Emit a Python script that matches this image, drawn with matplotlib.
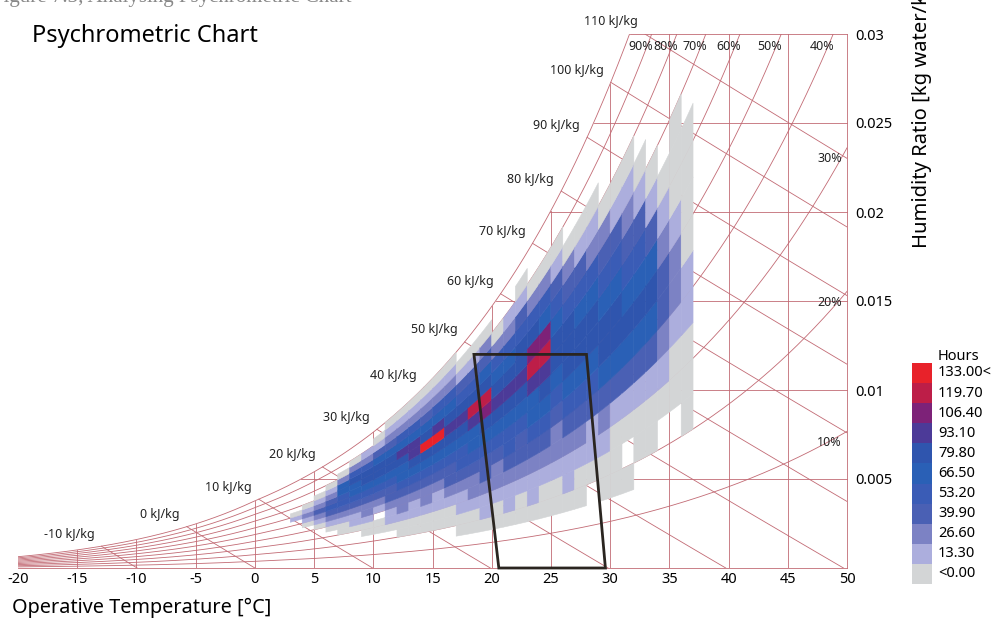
import numpy as np
import matplotlib
matplotlib.use("Agg")
import matplotlib.pyplot as plt
from matplotlib.collections import PolyCollection
from matplotlib.patches import Polygon, Rectangle

plt.rcParams['font.family'] = ['Noto Sans', 'DejaVu Sans']

# ---- chart values ----
x_ticks = [-20, -15, -10, -5, 0, 5, 10, 15, 20, 25, 30, 35, 40, 45, 50]
y_ticks = [0.005, 0.01, 0.015, 0.02, 0.025, 0.03]
y_tick_labels = ['0.005', '0.01', '0.015', '0.02', '0.025', '0.03']
rh_lines = [10, 20, 30, 40, 50, 60, 70, 80, 90, 100]
rh_top_labels = [40, 50, 60, 70, 80, 90]
rh_side_labels = [10, 20, 30]
enthalpy_lines = [-10, 0, 10, 20, 30, 40, 50, 60, 70, 80, 90, 100, 110]

# hours binned by 1 degC columns and 5 % RH rows
# each string starts at rh_bottom and climbs in 5 % steps; char = legend step, '.' = no data
temps = list(range(3, 37))
rh_bottom = [55, 45, 40, 35, 30, 30, 25, 25, 25, 20, 20, 20, 20, 20, 15, 15, 15,
             15, 15, 15, 15, 15, 15, 15, 15, 20, 15, 15, 15, 20, 20, 25, 25, 20]
hour_levels = [
    "10", "01210", "0123210", "012343210", "00123445520", "011234556420",
    "0012234566421", "00.12345665310", "011233456653210", "0012234556754210",
    "0011234567754210", "001223456A653210", "001123456A754210", "0012334567654210",
    "0011234456764310", "0012234557964310", "0112334568965320", "001223456765420",
    "011234456765421", "0012334567664310", "011234557986420", "001234567985420",
    "001223456654310", "01123456664320", "00123456654310", "0113456654210",
    "0012356654320", "0001356654310", "0.01356543210", "00135654310",
    "0013565310", "01233210", "001221000", "000110000",
]

legend_labels = ['<0.00', '13.30', '26.60', '39.90', '53.20', '66.50',
                 '79.80', '93.10', '106.40', '119.70', '133.00<']
legend_colors = ['#d3d5d6', '#acaedd', '#7c82c4', '#4a60b4', '#3a5cb6', '#2a60b6',
                 '#2f55ae', '#4c3a98', '#7d2278', '#bd1e48', '#e8222a']

comfort_t = [18.5, 28.0, 29.6, 20.6]
comfort_w = [0.012, 0.012, 0.0, 0.0]

T_MIN, T_MAX, W_MAX = -20, 50, 0.03
P = 101325.0
GRID = '#c26a74'


def p_sat(t):
    tk = np.asarray(t, dtype=float) + 273.15
    ice = (-5674.5359 / tk + 6.3925247 - 9.677843e-3 * tk + 6.2215701e-7 * tk**2
           + 2.0747825e-9 * tk**3 - 9.484024e-13 * tk**4 + 4.1635019 * np.log(tk))
    water = (-5800.2206 / tk + 1.3914993 - 4.8640239e-2 * tk + 4.1764768e-5 * tk**2
             - 1.4452093e-8 * tk**3 + 6.5459673 * np.log(tk))
    return np.exp(np.where(tk < 273.15, ice, water))


def hum_ratio(t, rh):
    pv = rh / 100.0 * p_sat(t)
    return 0.621945 * pv / (P - pv)


fig = plt.figure(figsize=(9.96, 6.22), dpi=100)
ax = fig.add_axes([18 / 996, 54 / 622, 829 / 996, 534 / 622])
ax.set_xlim(T_MIN, T_MAX)
ax.set_ylim(0, W_MAX)
for s in ax.spines.values():
    s.set_visible(False)

tt = np.linspace(T_MIN, T_MAX, 2801)
w_sat = hum_ratio(tt, 100)
h_sat = 1.006 * tt + w_sat * (2501 + 1.86 * tt)
line_kw = dict(color=GRID, lw=0.6, zorder=1)
lab_kw = dict(textcoords='offset pixels', fontsize=9, color='#222222')

# relative humidity curves
for rh in rh_lines:
    ax.plot(tt, hum_ratio(tt, rh), **line_kw)

# dry bulb lines
for t in x_ticks[1:-1]:
    ax.plot([t, t], [0, min(hum_ratio(t, 100), W_MAX)], **line_kw)

# humidity ratio lines
for w in y_ticks:
    ax.plot([np.interp(w, w_sat, tt), T_MAX], [w, w], clip_on=False, **line_kw)

# borders
ax.plot([T_MIN, T_MAX], [0, 0], clip_on=False, **line_kw)
ax.plot([T_MAX, T_MAX], [0, W_MAX], clip_on=False, **line_kw)

# enthalpy lines
for h in enthalpy_lines:
    t0 = np.interp(h, h_sat, tt)
    w0 = hum_ratio(t0, 100)
    if w0 > W_MAX:
        t0 = (h - W_MAX * 2501) / (1.006 + W_MAX * 1.86)
        w0 = W_MAX
    t1 = min(h / 1.006, T_MAX)
    ts = np.linspace(t0, t1, 50)
    ax.plot(ts, (h - 1.006 * ts) / (2501 + 1.86 * ts), **line_kw)
    ax.annotate(f'{h} kJ/kg', (t0, w0), xytext=(-7, 12), ha='right', va='center', **lab_kw)

# RH labels
for rh in rh_top_labels:
    t_top = np.interp(W_MAX, hum_ratio(tt, rh), tt)
    ax.annotate(f'{rh}%', (t_top, W_MAX), xytext=(1, -13), ha='right', va='center', **lab_kw)
for rh in rh_side_labels:
    ax.annotate(f'{rh}%', (T_MAX, hum_ratio(T_MAX, rh)), xytext=(-5, -11),
                ha='right', va='center', **lab_kw)

# binned hours
polys, faces = [], []
for t, rb, col in zip(temps, rh_bottom, hour_levels):
    ts = np.linspace(t, t + 1, 6)
    for k, ch in enumerate(col):
        if ch == '.':
            continue
        lo = rb + 5 * k
        xs = np.r_[ts, ts[::-1]]
        ys = np.r_[hum_ratio(ts, lo), hum_ratio(ts[::-1], lo + 5)]
        polys.append(np.column_stack([xs, ys]))
        faces.append(legend_colors[int(ch, 16)])
ax.add_collection(PolyCollection(polys, facecolors=faces, edgecolors=faces,
                                 linewidths=0.4, zorder=3))

# comfort polygon
ax.add_patch(Polygon(np.column_stack([comfort_t, comfort_w]), closed=True, fill=False,
                     edgecolor='#2a2520', lw=2, zorder=5, clip_on=False))

# ticks
ax.set_xticks(x_ticks)
ax.set_xticklabels([str(v) for v in x_ticks], fontsize=10.5)
ax.yaxis.tick_right()
ax.set_yticks(y_ticks)
ax.set_yticklabels(y_tick_labels, fontsize=10.5)
ax.tick_params(axis='x', length=0, pad=3)
ax.tick_params(axis='y', length=0, pad=6)

# texts
fig.text(-8 / 996, 1 - 2 / 622, 'Figure 7.3, Analysing Psychrometric Chart',
         family='Liberation Serif', fontsize=15, color='#888888', va='baseline')
fig.text(32 / 996, 1 - 36 / 622, 'Psychrometric Chart', fontsize=17, va='center')
fig.text(12 / 996, 1 - 608 / 622, 'Operative Temperature [°C]', fontsize=14.3, va='center')
fig.text(922 / 996, 1 - 248 / 622, 'Humidity Ratio [kg water/kg air]', fontsize=14.5,
         rotation=90, ha='center', va='bottom')

# legend
seg = 20.1
for i, (lab, c) in enumerate(zip(legend_labels, legend_colors)):
    y0 = 584 - (i + 1) * seg
    fig.patches.append(Rectangle((912 / 996, 1 - (y0 + seg) / 622), 20 / 996, seg / 622,
                                 transform=fig.transFigure, facecolor=c, edgecolor='none'))
    fig.text(938 / 996, 1 - (y0 + seg / 2) / 622, lab, fontsize=10.5, va='center')
fig.text(938 / 996, 1 - 364 / 622, 'Hours', fontsize=10.5, va='bottom')

fig.savefig('out.png', dpi=100)
